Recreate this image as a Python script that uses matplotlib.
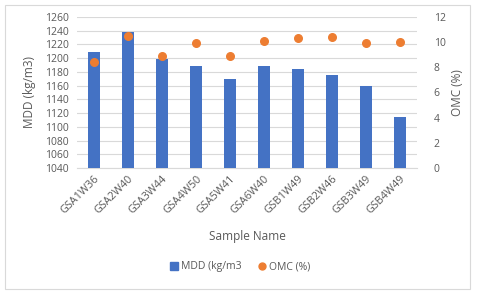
import numpy as np
import matplotlib.pyplot as plt
from matplotlib.lines import Line2D
from matplotlib.patches import Patch

samples = ['GSA1W36', 'GSA2W40', 'GSA3W44', 'GSA4W50', 'GSA5W41',
           'GSA6W40', 'GSB1W49', 'GSB2W46', 'GSB3W49', 'GSB4W49']
mdd = [1209, 1238, 1199, 1189, 1169, 1189, 1184, 1175, 1159, 1114]
omc = [8.4, 10.5, 8.9, 9.9, 8.9, 10.1, 10.3, 10.4, 9.9, 10.0]

plt.rcParams['font.family'] = ['Open Sans', 'DejaVu Sans']
txt = '#595959'

fig = plt.figure(figsize=(4.8, 2.93), dpi=100)
ax = fig.add_axes([77/480, 1-168/293, 340/480, 151/293])
ax2 = ax.twinx()

x = np.arange(len(samples))
ax.bar(x, mdd, width=0.34, color='#4472C4', zorder=3)
ax2.scatter(x, omc, s=30, color='#ED7D31', zorder=4)

ax.set_xlim(-0.5, len(samples) - 0.5)
ax.set_ylim(1040, 1260)
ax.set_yticks(np.arange(1040, 1261, 20))
ax2.set_ylim(0, 12)
ax2.set_yticks(np.arange(0, 13, 2))
ax.grid(axis='y', color='#D9D9D9', linewidth=0.8, zorder=0)

for a in (ax, ax2):
    for s in a.spines.values():
        s.set_visible(False)
    a.tick_params(length=0, labelsize=7.5, colors=txt)
ax.spines['bottom'].set_visible(True)
ax.spines['bottom'].set_color('#D9D9D9')
ax.tick_params(axis='y', pad=6)
ax2.tick_params(axis='y', pad=12)

ax.set_xticks(x)
ax.set_xticklabels(samples, rotation=45, ha='right', rotation_mode='anchor')
ax.tick_params(axis='x', pad=4, labelsize=7.8)

ax.set_ylabel('MDD (kg/m3)', fontsize=8.5, color=txt, labelpad=6)
ax2.set_ylabel('OMC (%)', fontsize=8.5, color=txt, labelpad=4)
ax.set_xlabel('Sample Name', fontsize=8.5, color=txt, labelpad=10)

handles = [Patch(color='#4472C4', label='MDD (kg/m3'),
           Line2D([], [], marker='o', linestyle='', color='#ED7D31',
                  markersize=5, label='OMC (%)')]
fig.legend(handles=handles, loc='center', bbox_to_anchor=(0.5, 1-267/293),
           ncol=2, frameon=False, fontsize=7.5, labelcolor=txt,
           handlelength=0.8, handletextpad=0.3, columnspacing=1.5)

fig.patches.append(plt.Rectangle((5/480, 4/293), 465/480, 284/293,
                                 transform=fig.transFigure, fill=False,
                                 edgecolor='#D9D9D9', linewidth=0.8))

fig.savefig('out.png', dpi=100)
